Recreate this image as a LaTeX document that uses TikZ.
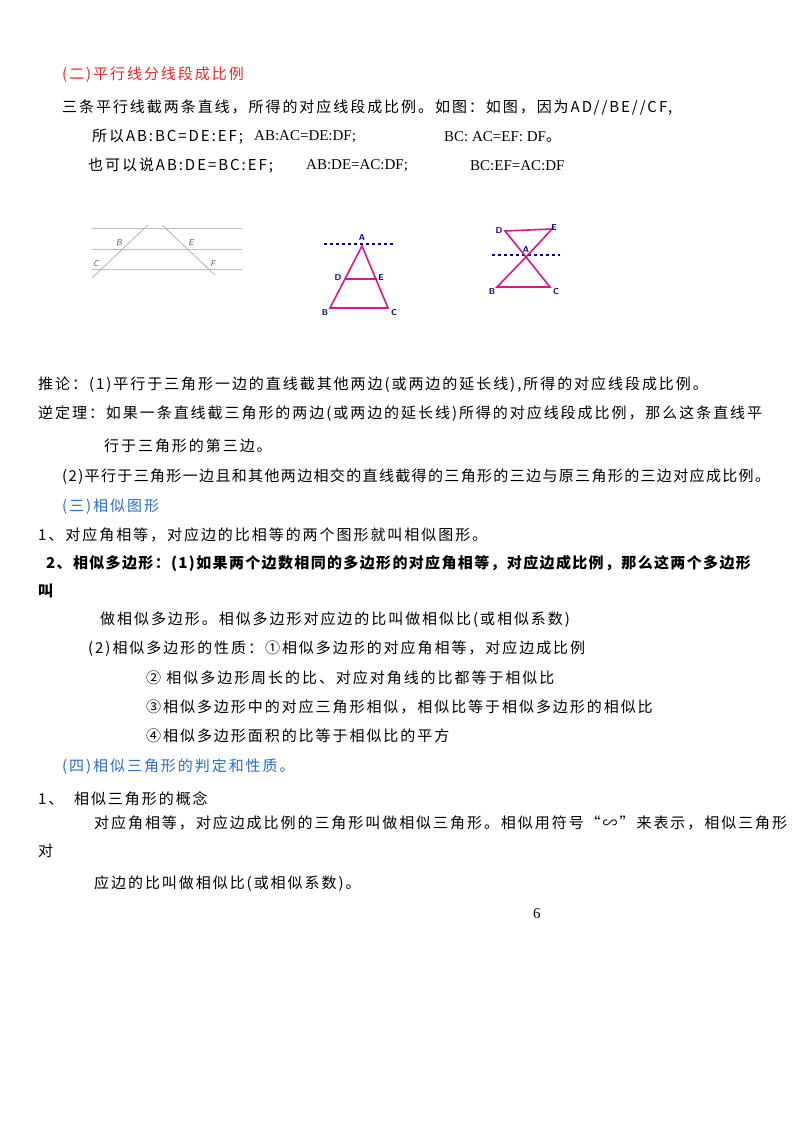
\documentclass[tikz,border=0pt]{standalone}
\usepackage{fontspec}
\setmainfont{Liberation Serif}
\newfontfamily\cjk[LetterSpace=13]{Noto Sans CJK SC}
\newfontfamily\cjkb[LetterSpace=9]{Noto Sans CJK SC}
\begin{document}
\begin{tikzpicture}[x=1pt,y=-1pt,
  t/.style={anchor=west,inner sep=0pt,font=\fontsize{15}{15}\cjk},
  tb/.style={t,font=\fontsize{15}{15}\cjkb\bfseries},
  lat/.style={anchor=west,inner sep=0pt,font=\fontsize{15}{15}\selectfont},
  gl/.style={draw=gray!50,line width=0.8pt},
  pk/.style={draw=magenta!80!violet,line width=1.6pt},
  dl/.style={draw=blue!60!black,dashed,line width=1.1pt},
  lb/.style={font=\sffamily\bfseries\fontsize{8.5}{8.5}\selectfont,text=blue!50!black,inner sep=1pt},
  gb/.style={font=\sffamily\itshape\fontsize{8.5}{8.5}\selectfont,text=gray!70!black,inner sep=1pt}]
\useasboundingbox[fill=white] (0,0) rectangle (800,1135);
\definecolor{redt}{RGB}{230,40,40}
\definecolor{bluet}{RGB}{40,110,200}
\node[t,text=redt] (h1) at (62,75) {(二)平行线分线段成比例};
\node[t] (l1) at (62,108) {三条平行线截两条直线，所得的对应线段成比例。如图：如图，因为AD//BE//CF,};
\node[t] (l2a) at (92,137) {所以AB:BC=DE:EF;};
\node[lat] (l2b) at (254,137) {AB:AC=DE:DF;};
\node[lat] (l2c) at (444,137) {BC:\ AC=EF:\ DF\cjk。};
\node[t] (l3a) at (88,166) {也可以说AB:DE=BC:EF;};
\node[lat] (l3b) at (306,166) {AB:DE=AC:DF;};
\node[lat] (l3c) at (470,166) {BC:EF=AC:DF};
% figure 1
\draw[gl] (92,228) -- (242,228);
\draw[gl] (92,249) -- (242,249);
\draw[gl] (92,269) -- (242,269);
\coordinate (f1a) at (148,225); \coordinate (f1c) at (92,278);
\coordinate (f1d) at (162,225); \coordinate (f1f) at (215,275);
\draw[gl,draw=gray!60] (f1a) -- (f1c);
\draw[gl,draw=gray!60] (f1d) -- (f1f);
\node[gb] (gB) at (119,243) {B};
\node[gb] (gE) at (191,243) {E};
\node[gb] (gC) at (96,264) {C};
\node[gb] (gF) at (213,264) {F};
% figure 2
\coordinate (A2) at (362,246); \coordinate (B2) at (330,308); \coordinate (C2) at (388,308);
\coordinate (D2) at (345,279); \coordinate (E2) at (377,279);
\coordinate (d2l) at (324,244); \coordinate (d2r) at (395,244);
\draw[dl] (d2l) -- (d2r);
\draw[pk] (A2) -- (B2) -- (C2) -- cycle;
\draw[pk] (D2) -- (E2);
\node[lb] (lA2) at (362,238) {A};
\node[lb] (lD2) at (338,278) {D};
\node[lb] (lE2) at (381,278) {E};
\node[lb] (lB2) at (325,313) {B};
\node[lb] (lC2) at (394,313) {C};
% figure 3
\coordinate (D3) at (505,231); \coordinate (E3) at (552,229); \coordinate (A3) at (526,257);
\coordinate (B3) at (497,287); \coordinate (C3) at (550,287);
\coordinate (d3l) at (492,255); \coordinate (d3r) at (560,255);
\draw[dl] (d3l) -- (d3r);
\draw[pk] (D3) -- (E3) -- (A3) -- cycle;
\draw[pk] (A3) -- (B3) -- (C3) -- cycle;
\node[lb] (lD3) at (499,231) {D};
\node[lb] (lE3) at (554,228) {E};
\node[lb] (lA3) at (526,250) {A};
\node[lb] (lB3) at (492,292) {B};
\node[lb] (lC3) at (556,292) {C};
% text
\node[t] (p1) at (38,385) {推论：(1)平行于三角形一边的直线截其他两边(或两边的延长线),所得的对应线段成比例。};
\node[t] (p2) at (38,414) {逆定理：如果一条直线截三角形的两边(或两边的延长线)所得的对应线段成比例，那么这条直线平};
\node[t] (p3) at (104,446) {行于三角形的第三边。};
\node[t,font=\fontsize{15}{15}\cjkb] (p4) at (62,477) {(2)平行于三角形一边且和其他两边相交的直线截得的三角形的三边与原三角形的三边对应成比例。};
\node[t,text=bluet] (h2) at (62,507) {(三)相似图形};
\node[t] (q1) at (38,535) {1、对应角相等，对应边的比相等的两个图形就叫相似图形。};
\node[tb] (q2) at (46,563) {2、相似多边形：(1)如果两个边数相同的多边形的对应角相等，对应边成比例，那么这两个多边形};
\node[tb] (q3) at (38,591) {叫};
\node[t] (q4) at (100,620) {做相似多边形。相似多边形对应边的比叫做相似比(或相似系数)};
\node[t] (q5) at (88,649) {(2)相似多边形的性质：①相似多边形的对应角相等，对应边成比例};
\node[t] (q6) at (146,678) {②\ 相似多边形周长的比、对应对角线的比都等于相似比};
\node[t] (q7) at (146,707) {③相似多边形中的对应三角形相似，相似比等于相似多边形的相似比};
\node[t] (q8) at (146,736) {④相似多边形面积的比等于相似比的平方};
\node[t,text=bluet] (h3) at (62,767) {(四)相似三角形的判定和性质。};
\node[t] (r1) at (38,799) {1、\ \ 相似三角形的概念};
\node[t] (r2) at (94,823) {对应角相等，对应边成比例的三角形叫做相似三角形。相似用符号“∽”来表示，相似三角形};
\node[t] (r3) at (38,851) {对};
\node[t] (r4) at (94,884) {应边的比叫做相似比(或相似系数)。};
\node[lat] (pg) at (533,914) {6};
\end{tikzpicture}
\end{document}
